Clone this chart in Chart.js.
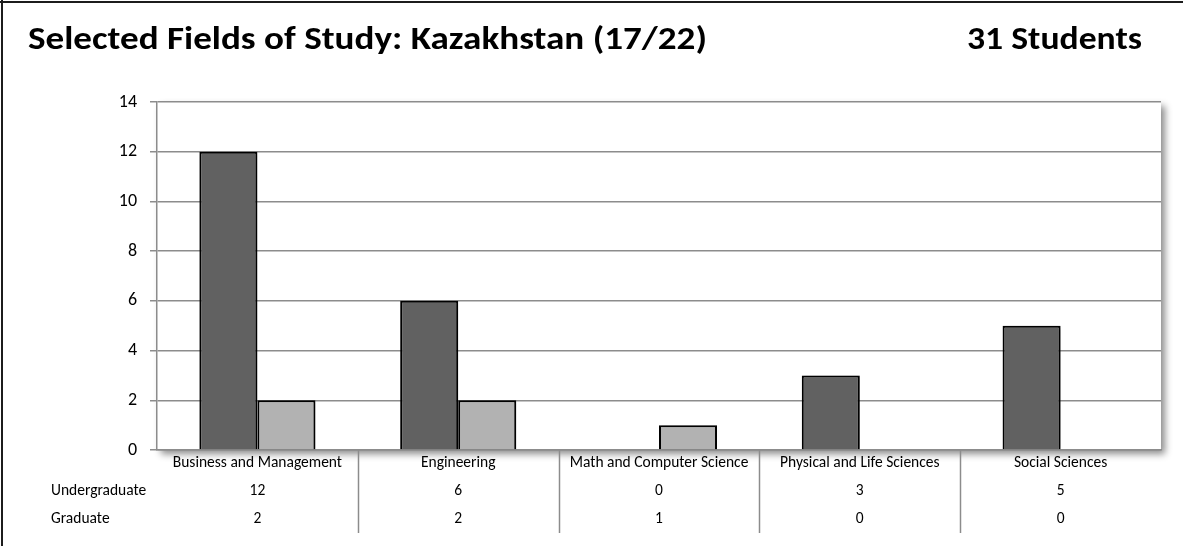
<!DOCTYPE html>
<html>
<head>
<meta charset="utf-8">
<title>Selected Fields of Study: Kazakhstan</title>
<script src="https://cdn.jsdelivr.net/npm/chart.js@4/dist/chart.umd.min.js"></script>
<style>
  html, body { margin: 0; padding: 0; background: #fff; }
  #wrap { width: 1183px; height: 546px; }
</style>
</head>
<body>
<div id="wrap"><canvas id="fields-chart" width="1183" height="546"></canvas></div>
<script>
const fields = ["Business and Management", "Engineering", "Math and Computer Science",
    "Physical and Life Sciences", "Social Sciences"];
const undergrad = [12, 6, 0, 3, 5];
const graduate = [2, 2, 1, 0, 0];
const seriesNames = ["Undergraduate", "Graduate"];
const yTicks = [0, 2, 4, 6, 8, 10, 12, 14];

const chartTitle = "Selected Fields of Study: Kazakhstan (17/22)";
const totalLabel = "31 Students";

const fontFamily = "Carlito, Lato, 'Open Sans', sans-serif";
const canvas = document.getElementById("fields-chart");

// heading text, stretched sideways to a given width
function drawHeading(ctx, text, x, y, width) {
    const w = ctx.measureText(text).width;
    ctx.save();
    ctx.translate(x, y);
    ctx.scale(width / w, 1);
    ctx.fillText(text, 0, 0);
    ctx.restore();
}

// frame, heading and the white plot box with its drop shadow
const backdrop = {
    id: 'backdrop',
    beforeDraw(chart) {
        const ctx = chart.ctx;
        const a = chart.chartArea;
        ctx.save();
        ctx.fillStyle = '#fff';
        ctx.fillRect(0, 0, chart.width, chart.height);

        ctx.fillStyle = '#1c1c1c';
        ctx.fillRect(0, 1, chart.width, 2);
        ctx.fillRect(1, 0, 2, chart.height);

        ctx.fillStyle = '#000';
        ctx.textBaseline = 'alphabetic';
        ctx.textAlign = 'left';
        ctx.font = `bold 33px ${fontFamily}`;
        drawHeading(ctx, chartTitle, 28, 49, 679);
        drawHeading(ctx, totalLabel, 967, 49, 175);

        ctx.shadowColor = 'rgba(0,0,0,0.45)';
        ctx.shadowBlur = 7;
        ctx.shadowOffsetX = 4;
        ctx.shadowOffsetY = 4;
        ctx.fillStyle = '#fff';
        ctx.fillRect(a.left, a.top, a.right - a.left, a.bottom - a.top);
        ctx.restore();
    }
};

// soft shadow under the bars
const barShadow = {
    id: 'barShadow',
    beforeDatasetsDraw(chart) {
        const ctx = chart.ctx;
        ctx.save();
        ctx.shadowColor = 'rgba(0,0,0,0.3)';
        ctx.shadowBlur = 4;
        ctx.shadowOffsetX = 2;
        ctx.shadowOffsetY = 1;
    },
    afterDatasetsDraw(chart) {
        chart.ctx.restore();
    }
};

// data table under the x axis
const dataTable = {
    id: 'dataTable',
    afterDraw(chart) {
        const ctx = chart.ctx;
        const x = chart.scales.x;
        const a = chart.chartArea;
        const rows = [undergrad, graduate];
        const rowY = [491, 519];
        ctx.save();
        ctx.fillStyle = '#000';
        ctx.font = `15.5px ${fontFamily}`;
        ctx.textBaseline = 'middle';

        ctx.textAlign = 'left';
        seriesNames.forEach((name, r) => ctx.fillText(name, 51, rowY[r]));

        ctx.textAlign = 'center';
        fields.forEach((f, i) => {
            const cx = x.getPixelForValue(i);
            ctx.fillText(f, cx, 463);
            rows.forEach((vals, r) => ctx.fillText(String(vals[i]), cx, rowY[r]));
        });

        ctx.strokeStyle = '#8c8c8c';
        ctx.lineWidth = 1.5;
        for (let i = 1; i < fields.length; i++) {
            const bx = Math.round((x.getPixelForValue(i - 1) + x.getPixelForValue(i)) / 2) + 0.5;
            ctx.beginPath();
            ctx.moveTo(bx, a.bottom);
            ctx.lineTo(bx, 533);
            ctx.stroke();
        }
        ctx.restore();
    }
};

const fieldsData = {
    labels: fields,
    datasets: [{
        label: seriesNames[0],
        data: undergrad.map(v => v || null),
        backgroundColor: '#616161',
        borderColor: '#000',
        borderWidth: 2,
        borderSkipped: 'bottom'
    }, {
        label: seriesNames[1],
        data: graduate.map(v => v || null),
        backgroundColor: '#b2b2b2',
        borderColor: '#000',
        borderWidth: 2,
        borderSkipped: 'bottom'
    }]
};

const fieldsOptions = {
    responsive: false,
    animation: false,
    events: [],
    layout: {
        padding: { left: 0, top: 102, right: 22, bottom: 96 }
    },
    datasets: {
        bar: { categoryPercentage: 0.578, barPercentage: 1 }
    },
    scales: {
        x: {
            grid: { display: false },
            border: { display: true, color: '#8c8c8c', width: 1.5 },
            ticks: { display: false },
            afterFit: s => { s.height = 0; }
        },
        y: {
            min: 0,
            max: 14,
            afterBuildTicks: s => { s.ticks = yTicks.map(v => ({ value: v })); },
            grid: { color: '#8c8c8c', lineWidth: 1.5, tickLength: 7 },
            border: { display: true, color: '#8c8c8c', width: 1.5 },
            ticks: {
                color: '#000',
                padding: 13,
                font: { family: fontFamily, size: 18 }
            },
            afterFit: s => { s.width = 157; }
        }
    },
    plugins: {
        legend: { display: false },
        tooltip: { enabled: false },
        title: { display: false }
    }
};

const fieldsChart = new Chart(canvas, {
    type: 'bar',
    data: fieldsData,
    options: fieldsOptions,
    plugins: [backdrop, barShadow, dataTable]
});
</script>
</body>
</html>
